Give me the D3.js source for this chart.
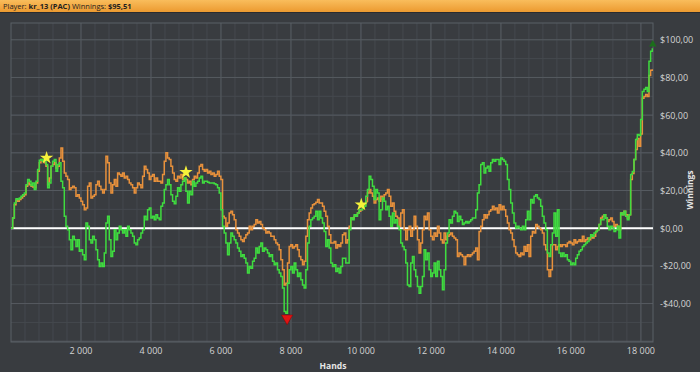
<!DOCTYPE html>
<html>
<head>
<meta charset="utf-8">
<script src="https://cdn.jsdelivr.net/npm/d3@7"></script>
<style>
  body { margin: 0; background: #393c40; }
  svg { display: block; }
</style>
</head>
<body>
<svg width="700" height="372"></svg>
<script>
// sampled every 47.6 hands
var handStep = 47.6;

var winnings = [
  0, 5.4, 13.4, 15.6, 15.2, 16.0, 16.9, 17.8, 18.7, 23.1,
  25.8, 24.9, 22.6, 24.0, 20.5, 24.9, 31.1, 36.1, 36.4, 35.5,
  37.3, 33.8, 21.4, 24.0, 32.9, 35.5, 36.4, 30.2, 33.8, 34.7,
  24.9, 21.4, 6.3, 1.0, -0.8, -6.1, -11.4, -4.3, -6.1, -9.7,
  -6.1, -12.3, -11.4, -14.1, -16.8, 2.7, 1.0, -6.1, -7.9, -4.3,
  -6.1, -11.4, -16.8, -20.3, -18.5, -20.3, -13.2, 2.7, 6.3, -6.1,
  -15.0, -12.3, -0.8, -6.1, -2.6, 1.0, -0.8, -2.6, -0.8, -4.3,
  1.0, -0.8, -2.6, -4.3, -7.9, -8.8, -6.1, -5.2, -2.6, -0.8,
  6.3, 4.5, 9.8, 10.7, 5.4, 6.3, 4.5, 7.2, 5.4, 4.5,
  11.6, 13.4, 20.5, 23.1, 25.8, 23.1,
  17.8, 14.3, 13.0, 16.9, 21.4, 19.6, 23.1, 24.9, 26.7, 19.6,
  13.4, 19.6, 17.8, 24.9, 22.3, 24.0, 24.9, 26.7, 27.6, 24.0,
  24.9, 24.9, 24.4, 24.0, 24.0, 24.0, 23.6, 23.1, 21.4, 18.7,
  9.8, 1.0, -2.6, -7.9, -14.1, -7.9, -2.6, -4.3, -6.1, -7.9,
  -10.5, -12.3, -15.0, -14.1, -15.9, -18.5, -23.8, -20.3, -21.2, -17.6,
  -15.9, -10.5, -13.2, -9.7, -7.9, -12.3, -10.5, -11.4, -13.2, -15.0,
  -14.1, -17.6, -19.4, -18.5, -22.1, -23.8, -25.6, -31.8, -44.2, -45.1,
  -29.2, -22.1, -20.3, -23.8, -18.5, -22.1, -25.6, -23.8, -27.4, -30.1,
  -31.8, -22.1, -7.9, 1.0, 4.5, 5.4, 6.3, 9.0, 4.5, 9.0,
  5.4, 2.7, -1.7, -9.7, -6.1, -10.5, -18.5, -20.3, -19.4,
  -23.0, -21.2, -23.8, -20.3, -15.9, -15.9, -18.5, -18.5, -0.8, 5.4,
  4.5, 7.2, 6.3, 8.1, 9.8, 9.8, 10.7, 11.6, 16.9, 20.5,
  27.6, 25.8, 22.3, 15.2, 20.5, 18.7, 4.5, 9.8, 16.0, 14.3,
  9.8, 11.6, 6.3, 1.0, 8.1, 2.7, 4.5, 1.0, -0.8, -7.9,
  -9.7, -11.4, -18.5, -30.1, -31.0, -18.5, -15.0, -22.1, -25.6, -31.0,
  -34.5, -31.0, -25.6, -11.4, -16.8, -13.2, -22.1, -25.6, -23.8, -18.5,
  -25.6, -17.6, -22.1, -25.6, -32.7, -22.1, -7.9, -2.6, 4.5, 2.7,
  6.3, 9.0, 8.1, 3.6, 6.3, 4.5, 1.9, 2.7, 3.6, 2.7,
  3.6, 4.5, 5.4, 5.4, 9.8, 18.7, 23.1, 33.8, 34.7, 29.3,
  32.0, 32.9, 30.2, 34.7, 36.4, 35.5, 36.4,
  36.4, 33.8, 37.3, 36.4, 35.5, 33.8, 25.8, 20.5, 13.4, 8.1,
  2.7, 0.1, 1.0, 0.1, -0.8, 1.0, -0.8, 4.5, 9.0, 4.5,
  15.2, 13.4, 16.9, 17.8, 16.0, 15.2, 11.6, 6.3, 2.7, -0.8,
  -13.2, -15.0, -8.8, -2.6, 8.1, -4.3, 9.8, -13.2, -15.0, -13.2,
  -15.0, -14.1, -16.8, -17.6, -19.4, -18.5, -19.4, -15.9, -14.1, -12.3,
  -11.4, -9.7, -8.8, -7.9, -7.0, -5.2, -3.5, -4.3, -2.6, -1.7,
  -0.8, 1.9, 4.5, 4.5, 7.2, 5.4, 1.0, -0.8, 1.0, 0.1,
  -1.7, -0.8, 1.0, -5.2, 8.1, 7.2, 9.0, 6.3, 4.5, 7.2,
  28.5, 30.1, 36.4, 47.1, 49.7, 49.2, 57.7, 72.6, 73.7, 74.7,
  72.6, 88.6, 93.9, 95.51
];

var allinEV = [
  0, 5.4, 12.5, 14.8, 14.3, 15.2, 16.0, 16.9, 17.8, 22.3,
  24.0, 23.1, 22.3, 21.9, 21.4, 24.0, 30.2, 34.7, 36.4, 35.5,
  34.7, 32.9, 23.1, 26.7, 32.9, 33.8, 34.7, 32.0, 32.9, 37.3,
  42.6, 35.5, 29.3, 27.6, 25.8, 20.5, 21.4, 22.3, 21.4, 16.9,
  17.8, 16.0, 14.3, 12.5, 9.8, 10.7, 22.3, 24.0, 16.0, 16.9,
  17.8, 23.1, 24.9, 22.3, 20.5, 18.7, 20.5, 38.2, 34.7, 24.0,
  18.7, 23.1, 25.8, 22.3, 29.3, 28.5, 27.6, 29.3, 26.7, 27.6,
  25.8, 24.0, 23.1, 21.4, 18.7, 21.4, 24.0, 23.1, 21.4, 27.6,
  32.9, 31.1, 29.3, 25.8, 27.6, 28.5, 24.9, 26.7, 24.9, 24.9,
  24.0, 28.5, 35.5, 40.0, 37.3, 36.4,
  32.9, 29.3, 25.8, 24.9, 27.6, 26.7, 28.5, 25.8, 26.7, 25.8,
  24.0, 24.9, 23.1, 25.8, 27.6, 26.7, 29.3, 32.9, 33.8, 31.1,
  30.2, 31.1, 29.3, 30.2, 28.5, 29.3, 27.6, 28.5, 30.2, 27.6,
  25.8, 6.3, 5.4, 1.0, 2.7, 8.1, 9.0, 7.2, 4.5, -0.8,
  -2.6, -4.3, -6.1, -7.0, -5.2, -3.5, -2.6, 1.0, -0.8, 1.0,
  1.9, 4.5, 2.7, 3.6, 1.9, 0.1, -0.8, -2.6, -1.7, -2.6,
  -4.3, -4.3, -6.1, -7.9, -8.8, -11.4, -16.8, -22.1, -30.1, -29.2,
  -18.5, -9.7, -8.8, -10.5, -9.7, -8.8, -11.4, -15.0, -16.8, -19.4,
  -17.6, -4.3, 4.5, 8.1, 10.7, 12.5, 13.0, 13.8, 15.2, 13.4,
  13.4, 11.6, 9.0, 6.3, 1.0, -3.5, -7.9, -7.9, -7.0,
  -10.5, -8.8, -9.7, -7.9, -3.5, -2.6, -7.9, -6.1, 1.0, 5.4,
  5.4, 6.3, 7.2, 8.1, 9.0, 9.8, 10.7, 12.5, 14.3, 18.7,
  20.5, 18.7, 16.9, 13.4, 15.2, 16.0, 14.3, 16.9, 15.2, 17.8,
  18.7, 20.5, 16.9, 11.6, 13.4, 9.0, 6.3, 5.4, 1.0, 8.1,
  9.8, -0.8, -6.1, -0.8, 1.0, -4.3, -0.8, 6.3, 1.0, -6.1,
  -13.2, -7.9, -0.8, 6.3, 4.5, 8.1, -0.8, -4.3, -6.1, -2.6,
  -4.3, 1.0, -2.6, -6.1, -7.9, -2.6, -6.1, -4.3, -3.5, -2.6,
  -4.3, -5.2, -6.1, -15.0, -13.2, -14.1, -15.0, -19.4, -15.0, -14.1,
  -15.0, -14.1, -13.2, -12.3, -10.5, -16.8, -1.7, 1.0, 4.5, 7.2,
  5.4, 7.2, 9.0, 9.8, 11.6, 9.8, 10.7,
  8.1, 12.5, 9.8, 11.6, 9.8, 6.3, 2.7, -0.8, -2.6, -6.1,
  -9.7, -13.2, -14.1, -15.0, -13.2, -14.1, -9.7, -12.3, -8.8, -15.0,
  -4.3, -1.7, -2.6, 1.9, 1.0, 0.1, -0.8, -2.6, -8.8, -11.4,
  -22.1, -25.6, -22.1, -8.8, -8.8, -11.4, -9.7, -8.8, -9.7, -8.8,
  -8.8, -9.7, -7.9, -7.0, -7.9, -8.8, -6.1, -7.9, -7.0, -6.1,
  -7.0, -4.3, -7.0, -6.1, -5.2, -6.1, -4.3, -5.2, -4.3, -1.7,
  -0.8, 1.9, 5.4, 6.3, 7.2, 5.4, 3.6, 4.5, 5.4, 3.6,
  1.0, 1.9, 1.0, -0.8, 8.1, 7.2, 9.0, 7.2, 5.4, 7.2,
  25.8, 29.0, 36.4, 41.8, 47.6, 43.5, 50.0, 68.9, 69.9, 71.0,
  69.9, 81.1, 83.8, 84.3
];

// markers: [hands, winnings]
var stars = [[1017, 37.3], [5000, 29.7], [10010, 12.5]];
var lowPoint = [7890, -47.8];
var endPoint = [18340, 97.6];

var xTicks = [2000, 4000, 6000, 8000, 10000, 12000, 14000, 16000, 18000];
var yTicks = [-40, -20, 0, 20, 40, 60, 80, 100];

var svg = d3.select("svg"),
    pLeft = 11, pRight = 653, pTop = 23, pBottom = 342;

var x = d3.scaleLinear().domain([0, 18360]).range([pLeft, 653.5]);
var y = d3.scaleLinear().domain([-60.4, 108.9]).range([pBottom, pTop]);

var fmt = function(v) {
  var s = "$" + Math.abs(v).toFixed(2).replace(".", ",");
  return v < 0 ? "-" + s : s;
};

// header
var grad = svg.append("defs").append("linearGradient")
    .attr("id", "hdr").attr("x1", 0).attr("y1", 0).attr("x2", 0).attr("y2", 1);
grad.append("stop").attr("offset", "0%").attr("stop-color", "#f9bd5c");
grad.append("stop").attr("offset", "100%").attr("stop-color", "#ec9a30");

svg.append("rect").attr("width", 700).attr("height", 12).attr("fill", "url(#hdr)");
svg.append("line").attr("x1", 0).attr("x2", 700).attr("y1", 12.5).attr("y2", 12.5)
    .attr("stroke", "#2a2c2f");

var hdr = svg.append("text").attr("x", 3).attr("y", 9)
    .style("font-family", "'Open Sans', sans-serif").style("font-size", "7.5px").attr("fill", "#1e1e1e");
hdr.append("tspan").text("Player: ");
hdr.append("tspan").style("font-weight", "bold").text("kr_13 (PAC)");
hdr.append("tspan").text(" Winnings: ");
hdr.append("tspan").style("font-weight", "bold").text("$95,51");

// grid
var g = svg.append("g");
g.selectAll(".vminor").data(d3.range(400, 18360, 400)).enter().append("line")
    .attr("x1", function(d) { return x(d); }).attr("x2", function(d) { return x(d); })
    .attr("y1", pTop).attr("y2", pBottom)
    .attr("stroke", "#45494e").attr("stroke-width", 1);
g.selectAll(".hminor").data(d3.range(-50, 108, 10)).enter().append("line")
    .attr("y1", function(d) { return y(d); }).attr("y2", function(d) { return y(d); })
    .attr("x1", pLeft).attr("x2", pRight)
    .attr("stroke", "#45494e").attr("stroke-width", 1);
g.selectAll(".vmajor").data(xTicks).enter().append("line")
    .attr("x1", function(d) { return x(d); }).attr("x2", function(d) { return x(d); })
    .attr("y1", pTop).attr("y2", pBottom)
    .attr("stroke", "#555a60").attr("stroke-width", 1);
g.selectAll(".hmajor").data(yTicks.concat([-60])).enter().append("line")
    .attr("y1", function(d) { return y(d); }).attr("y2", function(d) { return y(d); })
    .attr("x1", pLeft).attr("x2", pRight)
    .attr("stroke", "#555a60").attr("stroke-width", 1);

svg.append("rect").attr("x", pLeft).attr("y", pTop)
    .attr("width", pRight - pLeft).attr("height", pBottom - pTop)
    .attr("fill", "none").attr("stroke", "#5b6066");

// axis labels
svg.selectAll(".xl").data(xTicks).enter().append("text")
    .attr("x", function(d) { return x(d); }).attr("y", 354)
    .attr("text-anchor", "middle")
    .style("font-family", "'Open Sans', sans-serif").style("font-size", "9px")
    .attr("fill", "#d4d4d4")
    .text(function(d) { return d3.format(",")(d).replace(",", " "); });

svg.selectAll(".yl").data(yTicks).enter().append("text")
    .attr("x", 660).attr("y", function(d) { return y(d) + 3.5; })
    .style("font-family", "'Open Sans', sans-serif").style("font-size", "9px")
    .attr("fill", "#d4d4d4")
    .text(fmt);

svg.append("text").attr("x", 333).attr("y", 369).attr("text-anchor", "middle")
    .style("font-family", "'Open Sans', sans-serif").style("font-size", "8.5px")
    .style("font-weight", "bold").attr("fill", "#e6e6e6").text("Hands");

svg.append("text").attr("transform", "translate(693,190) rotate(-90)")
    .attr("text-anchor", "middle")
    .style("font-family", "'Open Sans', sans-serif").style("font-size", "8.5px")
    .style("font-weight", "bold").attr("fill", "#e6e6e6").text("Winnings");

// zero line
svg.append("line").attr("x1", pLeft).attr("x2", pRight)
    .attr("y1", y(0)).attr("y2", y(0))
    .attr("stroke", "#ffffff").attr("stroke-width", 2);

var line = d3.line()
    .curve(d3.curveStepAfter)
    .x(function(d, i) { return x(i * handStep); })
    .y(function(d) { return y(d); });

svg.append("path").datum(allinEV)
    .attr("d", line).attr("fill", "none")
    .attr("stroke", "#e8913c").attr("stroke-width", 1.5);

svg.append("path").datum(winnings)
    .attr("d", line).attr("fill", "none")
    .attr("stroke", "#3fdc3f").attr("stroke-width", 1.5);

// markers
svg.selectAll(".star").data(stars).enter().append("path")
    .attr("d", d3.symbol().type(d3.symbolStar).size(55))
    .attr("transform", function(d) { return "translate(" + x(d[0]) + "," + y(d[1]) + ")"; })
    .attr("fill", "#f6f23a");

svg.append("path")
    .attr("d", d3.symbol().type(d3.symbolTriangle).size(55))
    .attr("transform", "translate(" + x(lowPoint[0]) + "," + y(lowPoint[1]) + ") rotate(180)")
    .attr("fill", "#e01414").attr("stroke", "#8a0000").attr("stroke-width", 0.5);

svg.append("path")
    .attr("d", d3.symbol().type(d3.symbolTriangle).size(24))
    .attr("transform", "translate(" + x(endPoint[0]) + "," + y(endPoint[1]) + ")")
    .attr("fill", "#1b6e1b");
</script>
</body>
</html>
